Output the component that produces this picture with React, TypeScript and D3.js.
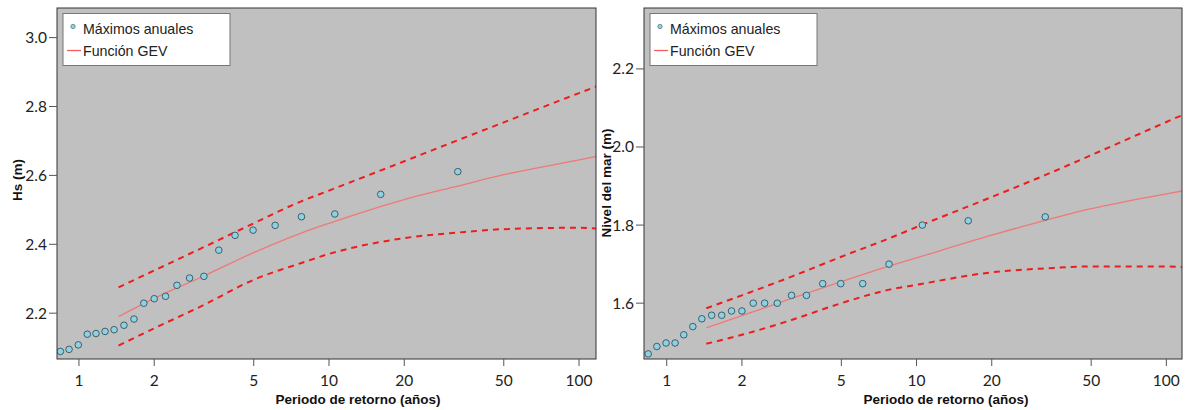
import React from "react";
import * as d3 from "d3";

// Return periods (years) of the annual maxima (plotting positions)
const returnPeriods = [0.843, 0.913, 0.994, 1.08, 1.17, 1.272, 1.382, 1.513, 1.66, 1.817, 2.0, 2.22, 2.466, 2.77, 3.16, 3.625, 4.21, 4.97, 6.09, 7.76, 10.55, 16.1, 32.75];
// Annual maxima: significant wave height (m)
const hsMaxima = [2.089, 2.095, 2.108, 2.139, 2.141, 2.147, 2.152, 2.165, 2.183, 2.229, 2.242, 2.249, 2.281, 2.302, 2.307, 2.383, 2.426, 2.441, 2.455, 2.48, 2.488, 2.545, 2.611];
// Annual maxima: sea level (m)
const seaMaxima = [1.47, 1.489, 1.498, 1.498, 1.519, 1.54, 1.56, 1.569, 1.569, 1.58, 1.58, 1.6, 1.6, 1.6, 1.62, 1.62, 1.65, 1.65, 1.65, 1.7, 1.8, 1.811, 1.821];

// GEV fitted curve and confidence bands
const curveT = [1.44, 2, 3.16, 5, 7.7, 10, 20, 32.7, 50, 100, 117];
const hsGev = [2.19, 2.243, 2.308, 2.376, 2.432, 2.461, 2.53, 2.569, 2.602, 2.645, 2.655];
const hsUpper = [2.275, 2.324, 2.392, 2.461, 2.524, 2.556, 2.641, 2.702, 2.754, 2.839, 2.858];
const hsLower = [2.106, 2.156, 2.224, 2.297, 2.345, 2.372, 2.418, 2.434, 2.444, 2.448, 2.446];
const seaGev = [1.537, 1.568, 1.612, 1.655, 1.694, 1.716, 1.774, 1.812, 1.842, 1.88, 1.888];
const seaUpper = [1.587, 1.62, 1.668, 1.719, 1.765, 1.795, 1.872, 1.928, 1.979, 2.064, 2.083];
const seaLower = [1.496, 1.519, 1.557, 1.6, 1.634, 1.647, 1.679, 1.689, 1.694, 1.694, 1.692];

const xTicks = [1, 2, 5, 10, 20, 50, 100];
const hsTicks = [2.2, 2.4, 2.6, 2.8, 3.0];
const seaTicks = [1.6, 1.8, 2.0, 2.2];

const xTitle = "Periodo de retorno (años)";
const legendPoints = "Máximos anuales";
const legendLine = "Función GEV";

type PanelProps = {
  x0: number; x1: number; y0: number; y1: number;
  xDomain: [number, number]; yDomain: [number, number];
  values: number[]; gev: number[]; upper: number[]; lower: number[];
  yTicks: number[]; yTitle: string; yTitleX: number; yTitleY: number; xTitleX: number;
};

const tickFont = "Lato, 'Open Sans', sans-serif";
const textFont = "'Liberation Sans', Arial, sans-serif";

function Panel(p: PanelProps) {
  const x = d3.scaleLog().domain(p.xDomain).range([p.x0, p.x1]);
  const y = d3.scaleLinear().domain(p.yDomain).range([p.y1, p.y0]);
  const line = d3.line<number>().x((_, i) => x(curveT[i])).y((d) => y(d)).curve(d3.curveMonotoneX);
  const clipId = `clip-${p.x0}`;
  return (
    <g>
      <defs>
        <clipPath id={clipId}>
          <rect x={p.x0} y={p.y0} width={p.x1 - p.x0} height={p.y1 - p.y0} />
        </clipPath>
      </defs>
      <rect x={p.x0} y={p.y0} width={p.x1 - p.x0} height={p.y1 - p.y0} fill="#c0c0c0" />
      <g clipPath={`url(#${clipId})`}>
        <path d={line(p.upper) || ""} fill="none" stroke="#ee1c1c" strokeWidth={2} strokeDasharray="6,5" />
        <path d={line(p.lower) || ""} fill="none" stroke="#ee1c1c" strokeWidth={2} strokeDasharray="6,5" />
        <path d={line(p.gev) || ""} fill="none" stroke="#f07878" strokeWidth={1.3} />
        {p.values.map((v, i) => (
          <circle key={i} cx={x(returnPeriods[i])} cy={y(v)} r={3.3} fill="#8fd0e2" stroke="#3f5f68" strokeWidth={1} />
        ))}
      </g>
      <rect x={p.x0} y={p.y0} width={p.x1 - p.x0} height={p.y1 - p.y0} fill="none" stroke="#333" strokeWidth={1} />
      {xTicks.map((t) => (
        <g key={t}>
          <line x1={x(t)} x2={x(t)} y1={p.y1} y2={p.y1 + 7} stroke="#555" />
          <text x={x(t)} y={p.y1 + 27} textAnchor="middle" fontFamily={tickFont} fontSize={15.5} fill="#222">{t}</text>
        </g>
      ))}
      {p.yTicks.map((t) => (
        <g key={t}>
          <line x1={p.x0 - 8} x2={p.x0} y1={y(t)} y2={y(t)} stroke="#555" />
          <text x={p.x0 - 10} y={y(t)} dy="0.35em" textAnchor="end" fontFamily={tickFont} fontSize={15.5} fill="#222">{t.toFixed(1)}</text>
        </g>
      ))}
      <text x={p.xTitleX} y={404} textAnchor="middle" fontFamily={textFont} fontWeight="bold" fontSize={13.5} fill="#111">{xTitle}</text>
      <text transform={`translate(${p.yTitleX},${p.yTitleY}) rotate(-90)`} textAnchor="middle" fontFamily={textFont} fontWeight="bold" fontSize={13.5} fill="#111">{p.yTitle}</text>
      <g transform={`translate(${p.x0 + 6},13.5)`}>
        <rect x={0} y={0} width={167} height={52} fill="#fff" stroke="#777" strokeWidth={1} />
        <circle cx={10} cy={13} r={2.2} fill="#8fd0e2" stroke="#3f5f68" strokeWidth={0.6} />
        <text x={20} y={20.5} fontFamily={textFont} fontSize={14.2} fill="#222">{legendPoints}</text>
        <line x1={4} x2={18} y1={37} y2={37} stroke="#f06060" strokeWidth={1.3} />
        <text x={20} y={42.5} fontFamily={textFont} fontSize={14.2} fill="#222">{legendLine}</text>
      </g>
    </g>
  );
}

export default function App() {
  return (
    <svg width={1191} height={410} style={{ position: "absolute", left: 0, top: 0, background: "#fff" }}>
      <Panel x0={57} x1={596} y0={8} y1={359} xDomain={[0.817, 116.9]} yDomain={[2.067, 3.086]}
        values={hsMaxima} gev={hsGev} upper={hsUpper} lower={hsLower} yTicks={hsTicks}
        yTitle="Hs (m)" yTitleX={21.5} yTitleY={180} xTitleX={358} />
      <Panel x0={644} x1={1182} y0={8} y1={359} xDomain={[0.811, 115.5]} yDomain={[1.457, 2.356]}
        values={seaMaxima} gev={seaGev} upper={seaUpper} lower={seaLower} yTicks={seaTicks}
        yTitle="Nivel del mar (m)" yTitleX={611} yTitleY={183} xTitleX={946} />
    </svg>
  );
}
